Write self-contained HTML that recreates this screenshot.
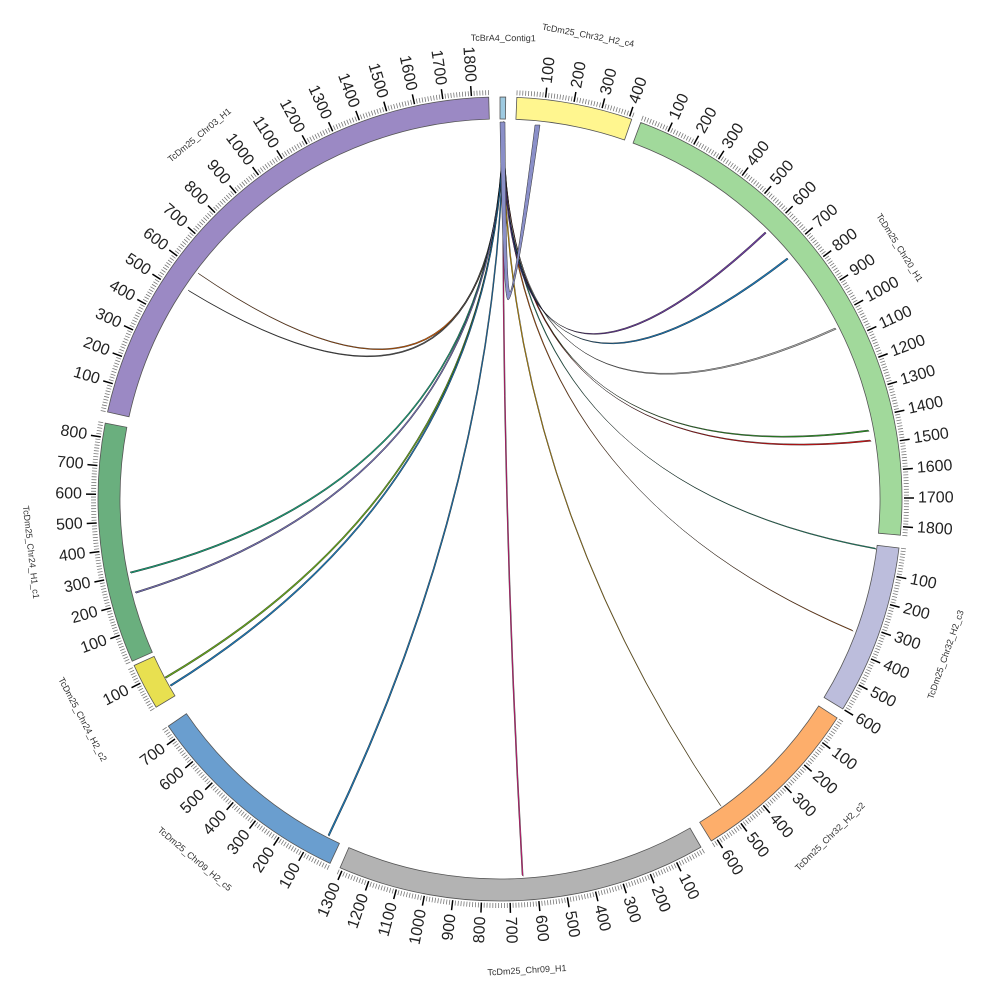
<!DOCTYPE html>
<html><head><meta charset="utf-8"><style>html,body{margin:0;padding:0;background:#fff}svg{display:block}</style></head>
<body>
<svg id="s" width="1000" height="1000" viewBox="0 0 1000 1000" xmlns="http://www.w3.org/2000/svg" font-family="Liberation Sans, DejaVu Sans, sans-serif"></svg>
<script>
(function(){
const S=document.getElementById('s');
const cx=500,cy=499,R1=380,R2=402,k=0.0408;
function P(a,r){const t=a*Math.PI/180;return [cx+r*Math.sin(t),cy-r*Math.cos(t)];}
let h='';
const segs=[
 ['TcBrA4_Contig1',0,20,'#9ecae1',0],
 ['TcDm25_Chr32_H2_c4',2.4,410,'#fff68f',1],
 ['TcDm25_Chr20_H1',20.5,1830,'#a1d99b',1],
 ['TcDm25_Chr32_H2_c3',97,600,'#bcbddc',1],
 ['TcDm25_Chr32_H2_c2',123,620,'#fdae6b',1],
 ['TcDm25_Chr09_H1',150,1310,'#b3b3b3',1],
 ['TcDm25_Chr09_H2_c5',205,750,'#6a9ecf',1],
 ['TcDm25_Chr24_H2_c2',238.8,165,'#e8e050',1],
 ['TcDm25_Chr24_H1_c1',246.2,850,'#6aaf7e',1],
 ['TcDm25_Chr03_H1',282.5,1860,'#9b89c4',1]
];
const topPt=[503,122];
const ends=[[198,273],[188,290],[130,572],[135,592],[165,677],[170,685],[328,835],[522,875],[720,805],[852,630],[875,548],[868,430],[870,440],[835,328],[787,258],[765,232]];
const lc=['#d95f02','#555','#1b9e77','#7570b3','#66a61e','#1f78b4','#1f78b4','#e7298a','#e6ab02','#d95f02','#1b9e77','#33a02c','#e31a1c','#aaa','#1f78b4','#6a3d9a'];
ends.forEach((e,i)=>{
 const cxp=500,cyp=480;
 h+=`<path d="M${topPt[0]},${topPt[1]} Q${cxp},${cyp} ${e[0]},${e[1]} L${e[0]+1.2},${e[1]+1.2} Q${cxp+1},${cyp+1} ${topPt[0]+1},${topPt[1]}Z" fill="${lc[i]}" stroke="#000" stroke-width="0.35"/>`;
});
h+=`<path d="M540,125 Q515,300 508,300 Q503,300 500,122 L505,122 Q506,290 510,292 Q514,290 535,125Z" fill="#8a8fc8" stroke="#333" stroke-width="0.5"/>`;
segs.forEach(s=>{
 const name=s[0],a0=s[1],len=s[2],col=s[3],lab=s[4];const a1=a0+len*k;
 const p1=P(a0,R2),p2=P(a1,R2),p3=P(a1,R1),p4=P(a0,R1);const lg=(a1-a0)>180?1:0;
 h+=`<path d="M${p1[0]},${p1[1]} A${R2},${R2} 0 ${lg} 1 ${p2[0]},${p2[1]} L${p3[0]},${p3[1]} A${R1},${R1} 0 ${lg} 0 ${p4[0]},${p4[1]}Z" fill="${col}" stroke="#555" stroke-width="0.8"/>`;
 if(lab){
  for(let u=0;u<=len;u+=10){
   const a=a0+u*k;const maj=u%100==0&&u>0;
   const q1=P(a,R2+2),q2=P(a,R2+(maj?12:7));
   h+=`<line x1="${q1[0]}" y1="${q1[1]}" x2="${q2[0]}" y2="${q2[1]}" stroke="${maj?'#000':'#777'}" stroke-width="${maj?1.5:0.8}"/>`;
   if(maj){
    const t=P(a,R2+16);let rot,anc;
    if(a<180){rot=a-90;anc='start';}else{rot=a+90;anc='end';}
    h+=`<text x="${t[0]}" y="${t[1]}" font-size="16" fill="#222" text-anchor="${anc}" dominant-baseline="central" transform="rotate(${rot} ${t[0]} ${t[1]})">${u}</text>`;
   }
  }
 }
 const am=(a0+a1)/2;const rn=name=='TcBrA4_Contig1'?461:472;
 const t=P(am,rn);let rot=am;if(am>90&&am<270)rot=am+180;
 h+=`<text x="${t[0]}" y="${t[1]}" font-size="9" fill="#333" text-anchor="middle" dominant-baseline="central" transform="rotate(${rot} ${t[0]} ${t[1]})">${name}</text>`;
});
S.innerHTML=h;
})();
</script>
</body></html>
